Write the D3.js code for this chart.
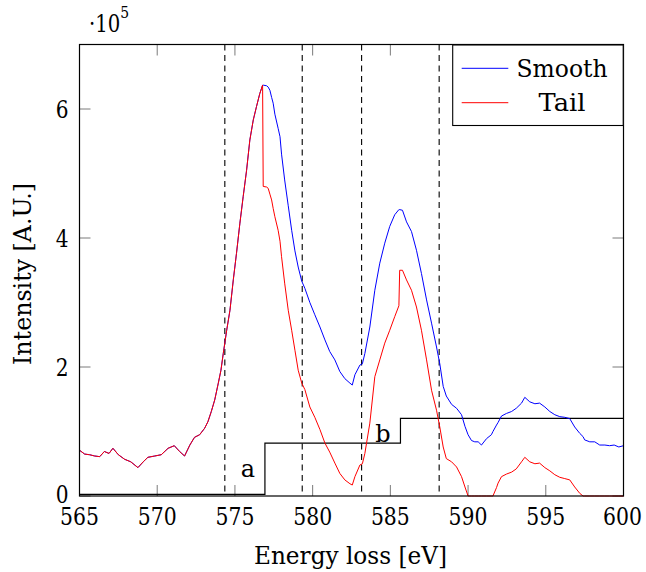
<!DOCTYPE html>
<html>
<head>
<meta charset="utf-8">
<script src="https://cdn.jsdelivr.net/npm/d3@7"></script>
<style>
  html, body { margin: 0; padding: 0; background: #fff; }
  svg { display: block; }
  text { font-family: "DejaVu Serif", serif; fill: #000; }
</style>
</head>
<body>
<svg id="chart" width="646" height="572"></svg>
<script>
// ---- data (intensity in units of 1e5) ----
const energy = [
  565.0, 565.33, 565.65, 565.98, 566.3, 566.6, 566.9, 567.15, 567.5, 567.9,
  568.3, 568.76, 569.1, 569.4, 569.84, 570.26, 570.7, 571.1, 571.44, 571.76,
  572.1, 572.4, 572.73, 573.05, 573.26, 573.48, 573.7, 573.93, 574.1, 574.25,
  574.47, 574.68, 574.9, 575.1, 575.32, 575.53, 575.75, 575.96, 576.18, 576.39,
  576.6, 576.78, 576.82, 577.04, 577.14, 577.25, 577.36, 577.46, 577.57, 577.78,
  577.9, 578.0, 578.2, 578.43, 578.65, 578.86, 579.07, 579.3, 579.5, 579.82,
  580.14, 580.47, 580.79, 581.1, 581.43, 581.75, 582.07, 582.4, 582.55, 582.72,
  583.04, 583.2, 583.36, 583.68, 584.0, 584.32, 584.64, 584.96, 585.28, 585.55,
  585.6, 585.78, 586.04, 586.36, 586.68, 587.0, 587.33, 587.65, 587.97, 588.18,
  588.4, 588.6, 588.94, 589.26, 589.58, 589.8, 590.0, 590.22, 590.43, 590.65,
  590.86, 591.19, 591.5, 591.6, 591.83, 591.93, 592.15, 592.47, 592.8, 593.1,
  593.44, 593.65, 593.97, 594.3, 594.6, 594.94, 595.26, 595.58, 595.9, 596.22,
  596.54, 596.86, 597.19, 597.4, 597.5, 597.83, 598.15, 598.47, 598.8, 599.1,
  599.4, 599.7, 600.0
];
const smooth = [
  0.71, 0.65, 0.64, 0.62, 0.61, 0.69, 0.66, 0.74, 0.64, 0.57,
  0.53, 0.44, 0.53, 0.60, 0.62, 0.64, 0.74, 0.78, 0.69, 0.62,
  0.79, 0.91, 0.95, 1.05, 1.15, 1.31, 1.49, 1.75, 1.95, 2.21,
  2.57, 2.88, 3.36, 3.76, 4.23, 4.64, 5.05, 5.52, 5.83, 6.04,
  6.24, 6.37, 6.37, 6.36, 6.34, 6.29, 6.18, 6.09, 5.92, 5.70,
  5.57, 5.30, 4.90, 4.50, 4.12, 3.80, 3.55, 3.33, 3.22, 3.00,
  2.81, 2.62, 2.42, 2.24, 2.11, 1.93, 1.82, 1.75, 1.72, 1.88,
  2.03, 2.05, 2.21, 2.62, 3.19, 3.61, 3.92, 4.18, 4.36, 4.44,
  4.44, 4.43, 4.25, 4.10, 3.81, 3.45, 3.04, 2.68, 2.31, 2.05,
  1.70, 1.55, 1.42, 1.36, 1.26, 1.08, 0.95, 0.86, 0.84, 0.84,
  0.79, 0.89, 0.95, 1.00, 1.10, 1.14, 1.24, 1.28, 1.31, 1.36,
  1.44, 1.53, 1.46, 1.43, 1.44, 1.38, 1.31, 1.26, 1.23, 1.22,
  1.20, 1.07, 0.97, 0.92, 0.87, 0.84, 0.84, 0.79, 0.79, 0.78,
  0.79, 0.76, 0.78
];
const tail = [
  0.71, 0.65, 0.64, 0.62, 0.61, 0.69, 0.66, 0.74, 0.64, 0.57,
  0.53, 0.44, 0.53, 0.60, 0.62, 0.64, 0.74, 0.78, 0.69, 0.62,
  0.79, 0.91, 0.95, 1.05, 1.15, 1.31, 1.49, 1.75, 1.95, 2.21,
  2.57, 2.88, 3.36, 3.76, 4.23, 4.64, 5.05, 5.52, 5.83, 6.04,
  6.24, 6.37, 4.80, 4.79, 4.77, 4.68, 4.59, 4.46, 4.33, 4.12,
  3.95, 3.71, 3.30, 2.88, 2.57, 2.26, 1.95, 1.75, 1.65, 1.38,
  1.22, 1.03, 0.82, 0.68, 0.51, 0.35, 0.25, 0.19, 0.17, 0.30,
  0.48, 0.50, 0.66, 1.13, 1.85, 2.11, 2.37, 2.57, 2.78, 2.95,
  3.50, 3.50, 3.35, 3.19, 2.93, 2.57, 2.11, 1.64, 1.33, 1.07,
  0.76, 0.58, 0.53, 0.45, 0.30, 0.14, 0.00, 0.00, 0.00, 0.00,
  0.00, 0.00, 0.00, 0.00, 0.13, 0.20, 0.30, 0.34, 0.37, 0.42,
  0.53, 0.60, 0.53, 0.50, 0.51, 0.44, 0.39, 0.33, 0.29, 0.27,
  0.25, 0.14, 0.04, 0.00, 0.00, 0.00, 0.00, 0.00, 0.00, 0.00,
  0.00, 0.00, 0.00
];
const stepEnergy = [565, 576.93, 585.65, 600];
const stepValue  = [0.025, 0.82, 1.205, 1.205];
const dashedEnergy = [574.35, 579.33, 583.15, 588.14];
const xTicks = [565, 570, 575, 580, 585, 590, 595, 600];
const yTicks = [0, 2, 4, 6];
const seriesNames = ["Smooth", "Tail"];
const seriesColors = ["#0000ff", "#ff0000"];

// ---- layout ----
const svg = d3.select("#chart");
const pLeft = 79.5, pRight = 623.5, pTop = 44.5, pBottom = 496;
const x = d3.scaleLinear().domain([565, 600]).range([pLeft, pRight]);
const y = d3.scaleLinear().domain([0, 7]).range([pBottom, pTop]);
const FS = 24;

const txt = () => svg.append("text");
const fit = (sel, w) => sel.attr("textLength", w).attr("lengthAdjust", "spacingAndGlyphs");

svg.append("clipPath").attr("id", "clip")
  .append("rect").attr("x", pLeft).attr("y", pTop).attr("width", pRight - pLeft).attr("height", pBottom - pTop);

// ticks (inside, mirrored)
const tl = 11;
const tickG = svg.append("g").attr("stroke", "#7a7a7a").attr("stroke-width", 1);
xTicks.forEach(t => {
  tickG.append("line").attr("x1", x(t)).attr("x2", x(t)).attr("y1", pBottom).attr("y2", pBottom - tl);
  tickG.append("line").attr("x1", x(t)).attr("x2", x(t)).attr("y1", pTop).attr("y2", pTop + tl);
});
yTicks.forEach(t => {
  tickG.append("line").attr("y1", y(t)).attr("y2", y(t)).attr("x1", pLeft).attr("x2", pLeft + tl);
  tickG.append("line").attr("y1", y(t)).attr("y2", y(t)).attr("x1", pRight).attr("x2", pRight - tl);
});

// dashed vertical lines
const dashG = svg.append("g");
dashedEnergy.forEach(e => {
  dashG.append("line").attr("x1", x(e)).attr("x2", x(e)).attr("y1", pTop).attr("y2", pBottom)
    .attr("stroke", "#000").attr("stroke-width", 1.1).attr("stroke-dasharray", "6,4.5");
});

// step function
const stepLine = d3.line().x((d, i) => x(stepEnergy[i])).y((d, i) => y(stepValue[i])).curve(d3.curveStepAfter);
svg.append("path").attr("d", stepLine(stepEnergy)).attr("fill", "none")
  .attr("stroke", "#000").attr("stroke-width", 1.2).attr("clip-path", "url(#clip)");

// curves
const line = vals => d3.line().x((d, i) => x(energy[i])).y((d, i) => y(vals[i]))(energy);
svg.append("path").attr("d", line(smooth)).attr("fill", "none")
  .attr("stroke", seriesColors[0]).attr("stroke-width", 1).attr("stroke-linejoin", "round");
svg.append("path").attr("d", line(tail)).attr("fill", "none")
  .attr("stroke", seriesColors[1]).attr("stroke-width", 1).attr("stroke-linejoin", "round");

// axis box
svg.append("rect").attr("x", pLeft).attr("y", pTop).attr("width", pRight - pLeft).attr("height", pBottom - pTop)
  .attr("fill", "none").attr("stroke", "#000").attr("stroke-width", 1.2);

// tick labels (horizontally condensed via transform)
xTicks.forEach(t => {
  const cx = x(t) - (t === 600 ? 1 : 0);
  txt().attr("transform", `translate(${cx},525) scale(0.85,1)`).attr("text-anchor", "middle")
    .attr("font-size", FS).text(d3.format("d")(t));
});
yTicks.forEach(t => {
  txt().attr("transform", `translate(68.5,${y(t) + (t === 0 ? 7 : 8.7)}) scale(0.84,1)`)
    .attr("text-anchor", "end").attr("font-size", FS).text(t);
});

// exponent label (one text element with superscript)
const expo = txt().attr("transform", "translate(89,32) scale(0.82,1)").attr("font-size", FS);
expo.append("tspan").text("·10");
expo.append("tspan").attr("dy", -14.5).attr("font-size", 17).text("5");

// axis labels
fit(txt().attr("x", 254).attr("y", 564)
  .attr("font-size", FS).text("Energy loss [eV]"), 193);
fit(txt().attr("transform", "translate(31,365) rotate(-90)")
  .attr("font-size", FS).text("Intensity [A.U.]"), 182);

// step labels
txt().attr("x", 248).attr("y", 477).attr("text-anchor", "middle").attr("font-size", FS).text("a");
txt().attr("x", 383).attr("y", 441.5).attr("text-anchor", "middle").attr("font-size", FS).text("b");

// legend
const lg = svg.append("g");
lg.append("rect").attr("x", 452.7).attr("y", 45).attr("width", 170.5).attr("height", 80.5)
  .attr("fill", "#fff").attr("stroke", "#000").attr("stroke-width", 1.1);
const legendY = [68.3, 102.7];
const legendW = [91, 47];
seriesNames.forEach((n, i) => {
  lg.append("line").attr("x1", 461.7).attr("x2", 508.3).attr("y1", legendY[i]).attr("y2", legendY[i])
    .attr("stroke", seriesColors[i]).attr("stroke-width", 1);
  lg.append("text").attr("x", 562 - legendW[i] / 2).attr("y", legendY[i] + 8.5)
    .attr("font-size", FS).attr("textLength", legendW[i]).attr("lengthAdjust", "spacingAndGlyphs").text(n);
});
</script>
</body>
</html>
